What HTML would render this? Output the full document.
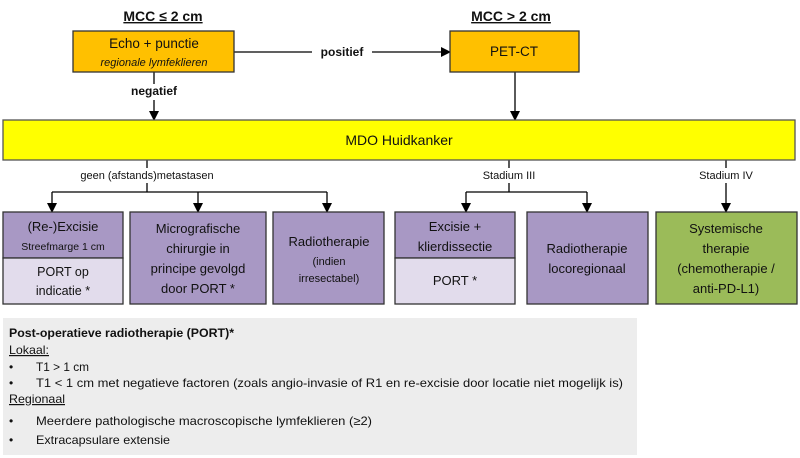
<!DOCTYPE html>
<html><head><meta charset="utf-8"><style>
html,body{margin:0;padding:0;background:#fff;}
svg{display:block;font-family:"Liberation Sans",sans-serif;}
</style></head><body>
<svg width="800" height="458" viewBox="0 0 800 458" xmlns="http://www.w3.org/2000/svg">
<defs><marker id="a" markerWidth="10" markerHeight="10" refX="9" refY="5" orient="auto" markerUnits="userSpaceOnUse"><path d="M0,0 L10,5 L0,10 Z" fill="#000"/></marker></defs>
<g stroke="#000" stroke-width="1.3" fill="none">
<line x1="154" y1="72" x2="154" y2="120" marker-end="url(#a)"/>
<line x1="234" y1="52" x2="450" y2="52" marker-end="url(#a)"/>
<line x1="515" y1="72" x2="515" y2="120" marker-end="url(#a)"/>
<line x1="147" y1="160" x2="147" y2="168"/>
<line x1="147" y1="183" x2="147" y2="192"/>
<line x1="52" y1="192" x2="327" y2="192"/>
<line x1="52" y1="192" x2="52" y2="212" marker-end="url(#a)"/>
<line x1="198" y1="192" x2="198" y2="212" marker-end="url(#a)"/>
<line x1="327" y1="192" x2="327" y2="212" marker-end="url(#a)"/>
<line x1="509" y1="160" x2="509" y2="168"/>
<line x1="509" y1="183" x2="509" y2="192"/>
<line x1="466" y1="192" x2="587" y2="192"/>
<line x1="466" y1="192" x2="466" y2="212" marker-end="url(#a)"/>
<line x1="587" y1="192" x2="587" y2="212" marker-end="url(#a)"/>
<line x1="726" y1="160" x2="726" y2="168"/>
<line x1="726" y1="183" x2="726" y2="212" marker-end="url(#a)"/>
</g>
<rect x="312" y="44" width="60" height="16" fill="#fff"/>
<rect x="120" y="84" width="70" height="16" fill="#fff"/>
<g stroke="#333" stroke-width="1.3">
<rect x="73" y="31" width="161" height="41" fill="#FFC000"/>
<rect x="450" y="31" width="129" height="41" fill="#FFC000"/>
<rect x="3" y="120" width="792" height="40" fill="#FFFF00" stroke="#555"/>
<rect x="3" y="212" width="120" height="46" fill="#A898C4"/>
<rect x="3" y="258" width="120" height="46" fill="#E2DCEC"/>
<rect x="130" y="212" width="136" height="92" fill="#A898C4"/>
<rect x="273" y="212" width="111" height="92" fill="#A898C4"/>
<rect x="395" y="212" width="120" height="46" fill="#A898C4"/>
<rect x="395" y="258" width="120" height="46" fill="#E2DCEC"/>
<rect x="527" y="212" width="121" height="92" fill="#A898C4"/>
<rect x="656" y="212" width="141" height="92" fill="#9BBB59"/>
</g>
<rect x="3" y="318" width="634" height="137" fill="#EDEDED"/>
<g font-size="14" text-anchor="middle" fill="#111">
<text x="163" y="21" font-weight="bold" text-decoration="underline">MCC ≤ 2 cm</text>
<text x="511" y="21" font-weight="bold" text-decoration="underline">MCC &gt; 2 cm</text>
<text x="154" y="48" font-size="13.5">Echo + punctie</text>
<text x="154" y="66" font-size="11" font-style="italic">regionale lymfeklieren</text>
<text x="342" y="56" font-size="12" font-weight="bold">positief</text>
<text x="154" y="95" font-size="12" font-weight="bold">negatief</text>
<text x="514" y="56" font-size="13.5">PET-CT</text>
<text x="399" y="145" font-size="14">MDO Huidkanker</text>
<text x="147" y="179" font-size="11">geen (afstands)metastasen</text>
<text x="509" y="179" font-size="11">Stadium III</text>
<text x="726" y="179" font-size="11">Stadium IV</text>
<text x="63" y="231" font-size="13">(Re-)Excisie</text>
<text x="63" y="250" font-size="10.5">Streefmarge 1 cm</text>
<text x="63" y="276" font-size="12.5">PORT op</text>
<text x="63" y="295" font-size="12.5">indicatie *</text>
<text x="198" y="233" font-size="13">Micrografische</text>
<text x="198" y="253" font-size="13">chirurgie in</text>
<text x="198" y="273" font-size="13">principe gevolgd</text>
<text x="198" y="293" font-size="13">door PORT *</text>
<text x="329" y="246" font-size="13">Radiotherapie</text>
<text x="329" y="265" font-size="11">(indien</text>
<text x="329" y="282" font-size="11">irresectabel)</text>
<text x="455" y="231" font-size="13">Excisie +</text>
<text x="455" y="251" font-size="13">klierdissectie</text>
<text x="455" y="285" font-size="13">PORT *</text>
<text x="587" y="253" font-size="13">Radiotherapie</text>
<text x="587" y="273" font-size="13">locoregionaal</text>
<text x="726" y="233" font-size="13">Systemische</text>
<text x="726" y="253" font-size="13">therapie</text>
<text x="726" y="273" font-size="13">(chemotherapie /</text>
<text x="726" y="293" font-size="13">anti-PD-L1)</text>
</g>
<g font-size="12" fill="#111" lengthAdjust="spacingAndGlyphs">
<text x="9" y="337" font-weight="bold" textLength="225" lengthAdjust="spacingAndGlyphs">Post-operatieve radiotherapie (PORT)*</text>
<text x="9" y="354" text-decoration="underline" textLength="40" lengthAdjust="spacingAndGlyphs">Lokaal:</text>
<text x="9" y="371">•</text><text x="36" y="371" textLength="53" lengthAdjust="spacingAndGlyphs">T1 &gt; 1 cm</text>
<text x="9" y="387">•</text><text x="36" y="387" textLength="587" lengthAdjust="spacingAndGlyphs">T1 &lt; 1 cm met negatieve factoren (zoals angio-invasie of R1 en re-excisie door locatie niet mogelijk is)</text>
<text x="9" y="403" text-decoration="underline" textLength="56" lengthAdjust="spacingAndGlyphs">Regionaal</text>
<text x="9" y="425">•</text><text x="36" y="425" textLength="336" lengthAdjust="spacingAndGlyphs">Meerdere pathologische macroscopische lymfeklieren (≥2)</text>
<text x="9" y="444">•</text><text x="36" y="444" textLength="134" lengthAdjust="spacingAndGlyphs">Extracapsulare extensie</text>
</g>
</svg>
</body></html>
